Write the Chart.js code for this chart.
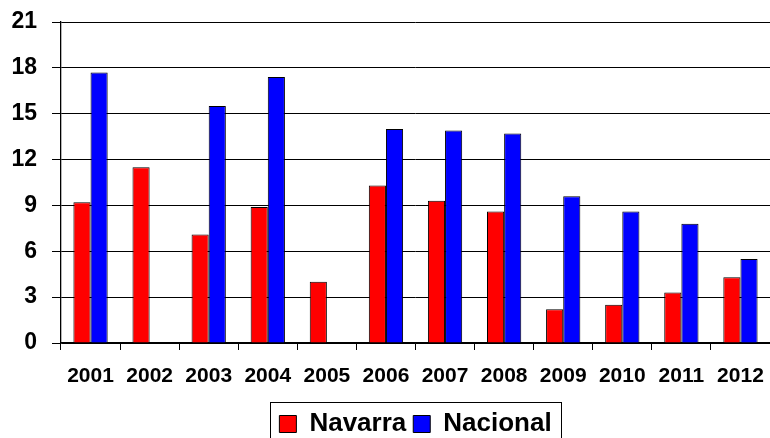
<!DOCTYPE html>
<html>
<head>
<meta charset="utf-8">
<script src="https://cdn.jsdelivr.net/npm/chart.js@4/dist/chart.umd.min.js"></script>
<style>
  html, body { margin: 0; padding: 0; background: #fff; overflow: hidden; }
  #wrap { width: 770px; height: 438px; overflow: hidden; }
</style>
</head>
<body>
<div id="wrap"><canvas id="chart" width="770" height="447"></canvas></div>
<script>
// Navarra vs Nacional, 2001-2012
const years    = ['2001', '2002', '2003', '2004', '2005', '2006', '2007', '2008', '2009', '2010', '2011', '2012'];
const navarra  = [9.2, 11.5, 7.1, 8.9, 4.0, 10.3, 9.3, 8.6, 2.2, 2.5, 3.3, 4.3];
const nacional = [17.7, null, 15.5, 17.4, null, 14.0, 13.9, 13.7, 9.6, 8.6, 7.8, 5.5];
const yTicks   = [0, 3, 6, 9, 12, 15, 18, 21];

const FONT = "'Liberation Sans', Arial, sans-serif";

// frame drawn round the legend items
const legendFrame = {
  id: 'legendFrame',
  afterDraw(chart) {
    const lg = chart.legend;
    const hb = lg && lg.legendHitBoxes;
    if (!hb || !hb.length) return;
    const first = hb[0];
    const last  = hb[hb.length - 1];
    const left   = Math.round(first.left - 9) + 0.5;
    const right  = Math.round(last.left + last.width + 9) + 0.5;
    const top    = Math.round(first.top - 9) + 0.5;
    const bottom = Math.round(first.top + first.height + 9) + 0.5;
    const ctx = chart.ctx;
    ctx.save();
    ctx.strokeStyle = '#000';
    ctx.lineWidth = 1;
    ctx.strokeRect(left, top, right - left, bottom - top);
    ctx.restore();
  }
};

new Chart(document.getElementById('chart'), {
  type: 'bar',
  data: {
    labels: years,
    datasets: [
      {
        label: 'Navarra',
        data: navarra,
        backgroundColor: '#ff0000',
        borderColor: '#000',
        borderWidth: 1,
      },
      {
        label: 'Nacional',
        data: nacional,
        backgroundColor: '#0000ff',
        borderColor: '#000',
        borderWidth: 1,
      },
    ],
  },
  options: {
    responsive: false,
    animation: false,
    categoryPercentage: 0.58,
    barPercentage: 1,
    layout: { padding: { top: 22, left: 0, right: 0, bottom: 0 } },
    scales: {
      x: {
        grid: {
          drawOnChartArea: false,
          color: '#000',
          tickLength: 7,
          offset: true,
        },
        border: { color: '#000', width: 1.3 },
        ticks: {
          color: '#000',
          padding: 14,
          maxRotation: 0,
          font: { family: FONT, size: 21, weight: 'bold' },
        },
        afterFit(scale) {
          scale.height = 61;
          scale.paddingLeft = 0;
          scale.paddingRight = 0;
        },
      },
      y: {
        min: 0,
        max: 21,
        afterBuildTicks(scale) { scale.ticks = yTicks.map(v => ({ value: v })); },
        grid: { color: '#000', lineWidth: 1, tickLength: 9 },
        border: { color: '#000', width: 1.3 },
        ticks: {
          color: '#000',
          padding: 15,
          font: { family: FONT, size: 23, weight: 'bold' },
        },
        afterFit(scale) {
          scale.width = 61;
          scale.paddingTop = 0;
          scale.paddingBottom = 0;
        },
      },
    },
    plugins: {
      tooltip: { enabled: false },
      legend: {
        position: 'bottom',
        fullSize: false,
        labels: {
          color: '#000',
          boxWidth: 17,
          boxHeight: 17,
          padding: 7,
          font: { family: FONT, size: 26, weight: 'bold' },
        },
      },
    },
  },
  plugins: [legendFrame],
});
</script>
</body>
</html>
